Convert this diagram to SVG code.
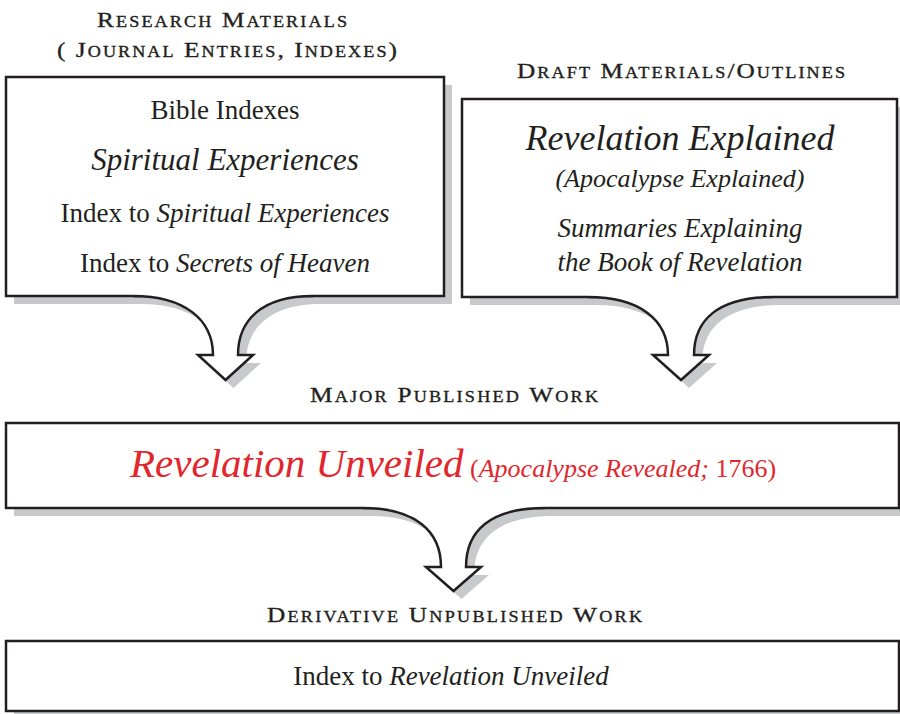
<svg xmlns="http://www.w3.org/2000/svg" width="900" height="714" viewBox="0 0 900 714">
<style>
.box{fill:#fff;stroke:#231f20;stroke-width:2.5}
.shadow{fill:#c8c9cb}
.ffill{fill:#fff}
.fline{fill:none;stroke:#231f20;stroke-width:2.5;stroke-linejoin:miter}
.hd{font-family:"Liberation Serif","DejaVu Serif",serif;font-size:22px;font-variant:small-caps;fill:#231f20;stroke:#231f20;stroke-width:0.35;text-anchor:middle}
.tx{font-family:"Liberation Serif","DejaVu Serif",serif;font-size:27px;fill:#231f20;text-anchor:middle}
.it{font-style:italic}
.red{fill:#e1262d}
</style>
<rect width="900" height="714" fill="#fff"/>
<g id="research-materials">
<rect class="shadow" x="14" y="85" width="438" height="219"/>
<rect class="box" x="6" y="77" width="438" height="219"/>
<text class="hd" transform="scale(1.15,1)" x="193.04" y="27" textLength="217.39" lengthAdjust="spacing">Research Materials</text>
<text class="hd" transform="scale(1.15,1)" x="197.39" y="57" textLength="295.65" lengthAdjust="spacing">( Journal Entries, Indexes)</text>
<text class="tx" x="225" y="119">Bible Indexes</text>
<text class="tx it" x="225" y="170" style="font-size:31px">Spiritual Experiences</text>
<text class="tx" x="225" y="222">Index to <tspan class="it">Spiritual Experiences</tspan></text>
<text class="tx" x="225" y="272">Index to <tspan class="it">Secrets of Heaven</tspan></text>
</g>
<g id="draft-materials">
<rect class="shadow" x="470" y="107" width="435" height="198"/>
<rect class="box" x="462" y="99" width="435" height="198"/>
<text class="hd" transform="scale(1.15,1)" x="592.17" y="78" textLength="285.22" lengthAdjust="spacing">Draft Materials/Outlines</text>
<text class="tx it" x="680" y="150" style="font-size:36px">Revelation Explained</text>
<text class="tx it" x="680" y="187" style="font-size:26px">(Apocalypse Explained)</text>
<text class="tx it" x="680" y="237">Summaries Explaining</text>
<text class="tx it" x="680" y="271">the Book of Revelation</text>
</g>
<g id="major-published-work">
<rect class="shadow" x="14" y="431" width="893" height="85"/>
<rect class="box" x="6" y="423" width="893" height="85"/>
<text class="hd" transform="scale(1.15,1)" x="394.78" y="402" textLength="250.43" lengthAdjust="spacing">Major Published Work</text>
<text class="tx red" x="130" y="477" style="text-anchor:start"><tspan class="it" style="font-size:41px">Revelation Unveiled</tspan><tspan style="font-size:26px"> (</tspan><tspan class="it" style="font-size:26px">Apocalypse Revealed;</tspan><tspan style="font-size:26px"> 1766)</tspan></text>
</g>
<g id="derivative-unpublished-work">
<rect class="shadow" x="14" y="649" width="893" height="70"/>
<rect class="box" x="6" y="641" width="893" height="70"/>
<text class="hd" transform="scale(1.15,1)" x="395.22" y="622" textLength="326.09" lengthAdjust="spacing">Derivative Unpublished Work</text>
<text class="tx" x="451" y="685">Index to <tspan class="it">Revelation Unveiled</tspan></text>
</g>
<g id="connectors">
<g id="arrow-research-to-major">
<path class="shadow" transform="translate(8,8)" d="M133 293V296C185 296 213 320 213 355H198L225.5 380L253 355H238C238 320 262 296 313 296V293Z"/>
<path class="ffill" d="M133 293V296C185 296 213 320 213 355H198L225.5 380L253 355H238C238 320 262 296 313 296V293Z"/>
<path class="fline" d="M133 296C185 296 213 320 213 355H198L225.5 380L253 355H238C238 320 262 296 313 296"/>
</g>
<g id="arrow-draft-to-major">
<path class="shadow" transform="translate(8,8)" d="M588 294V297C640 297 668 320 668 355H653L681 380L709 355H694C694 320 718 297 773 297V294Z"/>
<path class="ffill" d="M588 294V297C640 297 668 320 668 355H653L681 380L709 355H694C694 320 718 297 773 297V294Z"/>
<path class="fline" d="M588 297C640 297 668 320 668 355H653L681 380L709 355H694C694 320 718 297 773 297"/>
</g>
<g id="arrow-major-to-derivative">
<path class="shadow" transform="translate(8,8)" d="M363 505V508C415 508 441 531 441 567H426L453.5 591L481 567H466C466 531 490 508 545 508V505Z"/>
<path class="ffill" d="M363 505V508C415 508 441 531 441 567H426L453.5 591L481 567H466C466 531 490 508 545 508V505Z"/>
<path class="fline" d="M363 508C415 508 441 531 441 567H426L453.5 591L481 567H466C466 531 490 508 545 508"/>
</g>
</g>
</svg>
